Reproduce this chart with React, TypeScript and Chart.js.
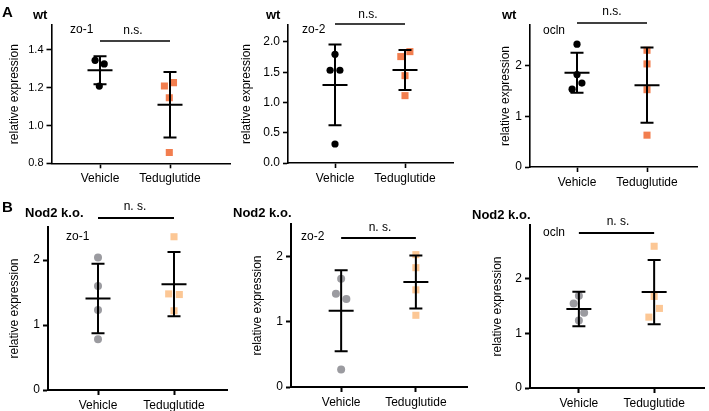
import React, { useEffect, useRef } from 'react';
import { Chart, registerables } from 'chart.js';
Chart.register(...registerables);

const FONT = '"Liberation Sans", Arial, Helvetica, sans-serif';
Chart.defaults.font.family = FONT;

// ---------- data ----------
const categories = ['Vehicle', 'Teduglutide'];
const yTitle = 'relative expression';

// wt zo-1
const wtZo1Vehicle = [1.345, 1.326, 1.209];
const wtZo1VehicleJitter = [-0.07, 0.06, -0.01];
const wtZo1Tedu = [1.209, 1.227, 1.147, 0.857];
const wtZo1TeduJitter = [-0.08, 0.05, -0.01, -0.01];
const wtZo1Mean = [1.292, 1.11];
const wtZo1Sd = [0.074, 0.173];
const wtZo1Ticks = [0.8, 1.0, 1.2, 1.4];

// wt zo-2
const wtZo2Vehicle = [1.796, 1.532, 1.532, 0.314];
const wtZo2VehicleJitter = [0, -0.07, 0.07, 0];
const wtZo2Tedu = [1.84, 1.758, 1.443, 1.113];
const wtZo2TeduJitter = [0.07, -0.06, 0, 0];
const wtZo2Mean = [1.289, 1.537];
const wtZo2Sd = [0.667, 0.33];
const wtZo2Ticks = [0, 0.5, 1.0, 1.5, 2.0];

// wt ocln
const wtOclnVehicle = [2.43, 1.83, 1.66, 1.54];
const wtOclnVehicleJitter = [0, 0, 0.07, -0.07];
const wtOclnTedu = [2.31, 2.04, 1.53, 0.63];
const wtOclnTeduJitter = [0, 0, 0, 0];
const wtOclnMean = [1.866, 1.62];
const wtOclnSd = [0.395, 0.745];
const wtOclnTicks = [0, 1, 2];

// Nod2 k.o. zo-1
const koZo1Vehicle = [2.04, 1.6, 1.23, 0.78];
const koZo1VehicleJitter = [0, 0, 0, 0];
const koZo1Tedu = [2.36, 1.48, 1.47, 1.22];
const koZo1TeduJitter = [0, -0.07, 0.07, 0];
const koZo1Mean = [1.41, 1.63];
const koZo1Sd = [0.535, 0.495];
const koZo1Ticks = [0, 1, 2];

// Nod2 k.o. zo-2
const koZo2Vehicle = [1.66, 1.43, 1.35, 0.27];
const koZo2VehicleJitter = [0, -0.07, 0.07, 0];
const koZo2Tedu = [2.03, 1.83, 1.49, 1.1];
const koZo2TeduJitter = [0, 0, 0, 0];
const koZo2Mean = [1.17, 1.61];
const koZo2Sd = [0.62, 0.405];
const koZo2Ticks = [0, 1, 2];

// Nod2 k.o. ocln
const koOclnVehicle = [1.69, 1.55, 1.38, 1.24];
const koOclnVehicleJitter = [0, -0.07, 0.07, 0];
const koOclnTedu = [2.6, 1.68, 1.46, 1.3];
const koOclnTeduJitter = [0, 0, 0.07, -0.07];
const koOclnMean = [1.45, 1.76];
const koOclnSd = [0.315, 0.59];
const koOclnTicks = [0, 1, 2];

// ---------- styles / layout ----------
const BLACK = '#000000';
const ORANGE = '#F27E4F';
const GRAY = '#9B9BA0';
const LIGHT_ORANGE = '#FCC795';

type Panel = {
  canvas: number[]; area: number[]; cat: number[]; yMin: number; yMax: number;
  ticks: number[]; dec: number; yTitleX: number; tickSize: number;
  vehicle: number[]; vJit: number[]; tedu: number[]; tJit: number[];
  mean: number[]; sd: number[];
  vColor: string; tColor: string; cR: number; sR: number;
  letter?: string; letterPos?: number[];
  title: string; titlePos: number[]; gene: string; genePos: number[];
  ns: string; nsPos: number[]; bracketY: number; lw: number;
};

const panels: Panel[] = [
  {
    canvas: [0, 0, 236, 195], area: [51.5, 25, 230, 163.3], cat: [100, 170], yMin: 0.8, yMax: 1.532,
    ticks: wtZo1Ticks, dec: 1, yTitleX: 15, tickSize: 11,
    vehicle: wtZo1Vehicle, vJit: wtZo1VehicleJitter, tedu: wtZo1Tedu, tJit: wtZo1TeduJitter,
    mean: wtZo1Mean, sd: wtZo1Sd, vColor: BLACK, tColor: ORANGE, cR: 3.6, sR: 5,
    letter: 'A', letterPos: [2, 13], title: 'wt', titlePos: [33, 15], gene: 'zo-1', genePos: [70, 30],
    ns: 'n.s.', nsPos: [133, 31], bracketY: 41, lw: 1.6,
  },
  {
    canvas: [232, 0, 226, 195], area: [288, 25, 453, 163], cat: [335, 405], yMin: 0, yMax: 2.28,
    ticks: wtZo2Ticks, dec: 1, yTitleX: 247, tickSize: 12,
    vehicle: wtZo2Vehicle, vJit: wtZo2VehicleJitter, tedu: wtZo2Tedu, tJit: wtZo2TeduJitter,
    mean: wtZo2Mean, sd: wtZo2Sd, vColor: BLACK, tColor: ORANGE, cR: 3.6, sR: 5,
    title: 'wt', titlePos: [266, 15], gene: 'zo-2', genePos: [302, 30],
    ns: 'n.s.', nsPos: [368, 15], bracketY: 24, lw: 1.6,
  },
  {
    canvas: [460, 0, 249, 195], area: [530, 25, 697, 167], cat: [577, 647], yMin: 0, yMax: 2.81,
    ticks: wtOclnTicks, dec: 0, yTitleX: 506, tickSize: 12,
    vehicle: wtOclnVehicle, vJit: wtOclnVehicleJitter, tedu: wtOclnTedu, tJit: wtOclnTeduJitter,
    mean: wtOclnMean, sd: wtOclnSd, vColor: BLACK, tColor: ORANGE, cR: 3.6, sR: 5,
    title: 'wt', titlePos: [502, 15], gene: 'ocln', genePos: [543, 31],
    ns: 'n.s.', nsPos: [612, 12], bracketY: 23, lw: 1.6,
  },
  {
    canvas: [0, 195, 236, 216], area: [48, 227, 227, 390], cat: [98, 174], yMin: 0, yMax: 2.51,
    ticks: koZo1Ticks, dec: 0, yTitleX: 15, tickSize: 12,
    vehicle: koZo1Vehicle, vJit: koZo1VehicleJitter, tedu: koZo1Tedu, tJit: koZo1TeduJitter,
    mean: koZo1Mean, sd: koZo1Sd, vColor: GRAY, tColor: LIGHT_ORANGE, cR: 4, sR: 5,
    letter: 'B', letterPos: [2, 208], title: 'Nod2 k.o.', titlePos: [25, 213], gene: 'zo-1', genePos: [66, 237],
    ns: 'n. s.', nsPos: [135, 207], bracketY: 218, lw: 2,
  },
  {
    canvas: [228, 195, 244, 216], area: [291, 224, 470, 387], cat: [342, 418], yMin: 0, yMax: 2.5,
    ticks: koZo2Ticks, dec: 0, yTitleX: 258, tickSize: 12,
    vehicle: koZo2Vehicle, vJit: koZo2VehicleJitter, tedu: koZo2Tedu, tJit: koZo2TeduJitter,
    mean: koZo2Mean, sd: koZo2Sd, vColor: GRAY, tColor: LIGHT_ORANGE, cR: 4, sR: 5,
    title: 'Nod2 k.o.', titlePos: [233, 213], gene: 'zo-2', genePos: [301, 237],
    ns: 'n. s.', nsPos: [380, 228], bracketY: 238, lw: 2,
  },
  {
    canvas: [460, 195, 249, 216], area: [530, 225, 708, 388], cat: [580, 657], yMin: 0, yMax: 2.99,
    ticks: koOclnTicks, dec: 0, yTitleX: 498, tickSize: 12,
    vehicle: koOclnVehicle, vJit: koOclnVehicleJitter, tedu: koOclnTedu, tJit: koOclnTeduJitter,
    mean: koOclnMean, sd: koOclnSd, vColor: GRAY, tColor: LIGHT_ORANGE, cR: 4, sR: 5,
    title: 'Nod2 k.o.', titlePos: [472, 215], gene: 'ocln', genePos: [543, 233],
    ns: 'n. s.', nsPos: [618, 222], bracketY: 233, lw: 2,
  },
];

function PanelChart({ p }: { p: Panel }) {
  const ref = useRef<HTMLCanvasElement>(null);
  useEffect(() => {
    const [cx, cy, cw, ch] = p.canvas;
    const [L, T, R, B] = p.area;
    const unit = p.cat[1] - p.cat[0];
    const xMin = (L - p.cat[0]) / unit;
    const xMax = (R - p.cat[0]) / unit;
    const titleSize = 12;
    const titleOffset = (titleSize * 1.2) / 2 + 4;
    const padLeft = p.yTitleX - titleOffset - cx;
    const yW = L - cx - padLeft;
    const xH = 28;
    const padBottom = ch - (B - cy) - xH;

    const decor = {
      id: 'decor',
      afterDatasetsDraw(chart: any) {
        const ctx = chart.ctx;
        const xs = chart.scales.x;
        const ys = chart.scales.y;
        ctx.save();
        ctx.strokeStyle = '#000';
        ctx.lineWidth = 2;
        for (let i = 0; i < 2; i++) {
          const x = xs.getPixelForValue(i);
          const m = ys.getPixelForValue(p.mean[i]);
          const t = ys.getPixelForValue(p.mean[i] + p.sd[i]);
          const b = ys.getPixelForValue(p.mean[i] - p.sd[i]);
          ctx.beginPath();
          ctx.moveTo(x, t); ctx.lineTo(x, b);
          ctx.moveTo(x - 6.5, t); ctx.lineTo(x + 6.5, t);
          ctx.moveTo(x - 6.5, b); ctx.lineTo(x + 6.5, b);
          ctx.moveTo(x - 12.5, m); ctx.lineTo(x + 12.5, m);
          ctx.stroke();
        }
        ctx.restore();
      },
      afterDraw(chart: any) {
        const ctx = chart.ctx;
        const xs = chart.scales.x;
        ctx.save();
        ctx.fillStyle = '#000';
        ctx.textBaseline = 'middle';
        if (p.letter && p.letterPos) {
          ctx.font = `bold 15px ${FONT}`;
          ctx.textAlign = 'left';
          ctx.fillText(p.letter, p.letterPos[0] - cx, p.letterPos[1] - cy);
        }
        ctx.font = `bold 13px ${FONT}`;
        ctx.textAlign = 'left';
        ctx.fillText(p.title, p.titlePos[0] - cx, p.titlePos[1] - cy);
        ctx.font = `12px ${FONT}`;
        ctx.fillText(p.gene, p.genePos[0] - cx, p.genePos[1] - cy);
        ctx.textAlign = 'center';
        ctx.fillText(p.ns, p.nsPos[0] - cx, p.nsPos[1] - cy);
        ctx.strokeStyle = '#000';
        ctx.lineWidth = p.lw;
        ctx.beginPath();
        ctx.moveTo(xs.getPixelForValue(0), p.bracketY - cy);
        ctx.lineTo(xs.getPixelForValue(1), p.bracketY - cy);
        ctx.stroke();
        ctx.restore();
      },
    };

    const gridOpts = {
      display: true, drawOnChartArea: false, drawTicks: true, tickLength: 5,
      tickWidth: p.lw, tickColor: '#000',
    };
    const chart = new Chart(ref.current as HTMLCanvasElement, {
      type: 'scatter',
      data: {
        datasets: [
          {
            data: p.vehicle.map((v, i) => ({ x: 0 + p.vJit[i], y: v })),
            pointStyle: 'circle', pointRadius: p.cR, pointBackgroundColor: p.vColor,
            pointBorderWidth: 0, pointBorderColor: 'rgba(0,0,0,0)',
          },
          {
            data: p.tedu.map((v, i) => ({ x: 1 + p.tJit[i], y: v })),
            pointStyle: 'rect', pointRadius: p.sR, pointBackgroundColor: p.tColor,
            pointBorderWidth: 0, pointBorderColor: 'rgba(0,0,0,0)',
          },
        ],
      },
      options: {
        animation: false,
        responsive: false,
        devicePixelRatio: 1,
        events: [],
        layout: { padding: { left: padLeft, top: T - cy, right: cw - (R - cx), bottom: padBottom } },
        plugins: { legend: { display: false }, tooltip: { enabled: false } },
        scales: {
          x: {
            type: 'linear', min: xMin, max: xMax,
            afterBuildTicks: (s: any) => { s.ticks = [{ value: 0 }, { value: 1 }]; },
            afterFit: (s: any) => { s.height = xH; },
            ticks: {
              callback: (v: any) => categories[Math.round(Number(v))],
              font: { size: 12 }, color: '#000', padding: 3, autoSkip: false, maxRotation: 0,
            },
            grid: gridOpts,
            border: { display: true, color: '#000', width: p.lw },
          },
          y: {
            type: 'linear', min: p.yMin, max: p.yMax,
            afterBuildTicks: (s: any) => { s.ticks = p.ticks.map((v) => ({ value: v })); },
            afterFit: (s: any) => { s.width = yW; },
            ticks: {
              callback: (v: any) => Number(v).toFixed(p.dec),
              font: { size: p.tickSize }, color: '#000', padding: 3, autoSkip: false,
            },
            grid: gridOpts,
            border: { display: true, color: '#000', width: p.lw },
            title: {
              display: true, text: yTitle, color: '#000',
              font: { size: titleSize }, padding: { top: 4, bottom: 0 },
            },
          },
        },
      } as any,
      plugins: [decor],
    });
    return () => chart.destroy();
  }, [p]);
  const [cx, cy, cw, ch] = p.canvas;
  return (
    <canvas
      ref={ref}
      width={cw}
      height={ch}
      style={{ position: 'absolute', left: cx, top: cy, width: cw, height: ch }}
    />
  );
}

export default function App() {
  return (
    <div style={{ position: 'absolute', left: 0, top: 0, width: 709, height: 411, background: '#fff', overflow: 'hidden' }}>
      {panels.map((p, i) => (
        <PanelChart key={i} p={p} />
      ))}
    </div>
  );
}
